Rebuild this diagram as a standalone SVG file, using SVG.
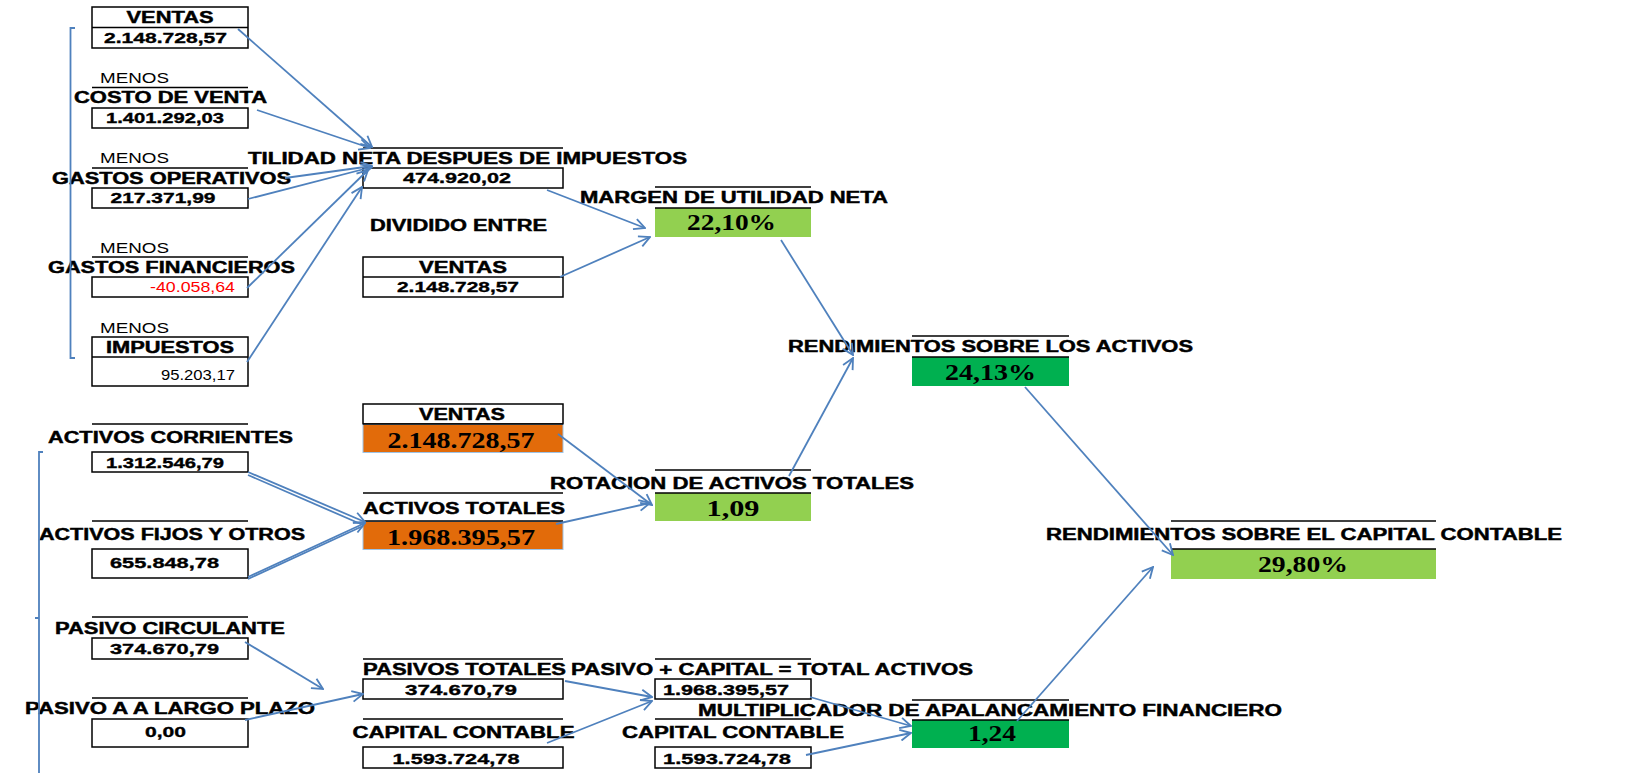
<svg xmlns="http://www.w3.org/2000/svg" width="1650" height="773" viewBox="0 0 1650 773">
<defs>
<style>
.h{font-family:"Liberation Sans",Arial,sans-serif;font-weight:bold;font-size:16px;fill:#000;stroke:#000;stroke-width:0.45;text-anchor:middle}
.v{font-family:"Liberation Sans",Arial,sans-serif;font-weight:bold;font-size:15px;fill:#000;stroke:#000;stroke-width:0.35;text-anchor:middle}
.m{font-family:"Liberation Sans",Arial,sans-serif;font-size:15px;fill:#000}
.r{font-family:"Liberation Sans",Arial,sans-serif;font-size:15px;fill:#000;text-anchor:end}
.n{font-family:"Liberation Serif","Times New Roman",serif;font-weight:bold;font-size:23px;fill:#000;text-anchor:middle}
.box{fill:#fff;stroke:#000;stroke-width:1.5}
.ol{stroke:#000;stroke-width:1.5}
.lg{fill:#92D050}
.dg{fill:#00B050}
.or{fill:#E26B0A;stroke:#9DC3E6;stroke-width:1}
.c{stroke:#4F81BD;stroke-width:1.8;fill:none;marker-end:url(#ah)}
.c2{stroke:#4F81BD;stroke-width:1.8;fill:none}
.br{stroke:#4F81BD;stroke-width:1.8;fill:none}
</style>
<marker id="ah" viewBox="0 0 12 12" refX="11" refY="6" markerWidth="13" markerHeight="13" markerUnits="userSpaceOnUse" orient="auto">
<path d="M1,1 L11,6 L1,11" fill="none" stroke="#4F81BD" stroke-width="1.7"/>
</marker>
</defs>
<rect width="1650" height="773" fill="#fff"/>

<g id="n_ventas1">
<rect class="box" x="92" y="7" width="156" height="41"/>
<line class="ol" x1="92" y1="27.5" x2="248" y2="27.5"/>
<text class="h" x="170" y="23" textLength="87" lengthAdjust="spacingAndGlyphs">VENTAS</text>
<text class="v" x="165.5" y="43" textLength="123" lengthAdjust="spacingAndGlyphs">2.148.728,57</text>
</g>

<g id="n_costo">
<text class="m" x="100" y="83" textLength="69" lengthAdjust="spacingAndGlyphs">MENOS</text>
<line class="ol" x1="92" y1="87.5" x2="248" y2="87.5"/>
<text class="h" x="170.5" y="103" textLength="193" lengthAdjust="spacingAndGlyphs">COSTO DE VENTA</text>
<rect class="box" x="92" y="108" width="156" height="20"/>
<text class="v" x="165" y="123" textLength="118" lengthAdjust="spacingAndGlyphs">1.401.292,03</text>
</g>

<g id="n_gastos_op">
<text class="m" x="100" y="163" textLength="69" lengthAdjust="spacingAndGlyphs">MENOS</text>
<line class="ol" x1="92" y1="168" x2="248" y2="168"/>
<text class="h" x="171.5" y="184" textLength="239" lengthAdjust="spacingAndGlyphs">GASTOS OPERATIVOS</text>
<rect class="box" x="92" y="188" width="156" height="20"/>
<text class="v" x="163" y="203" textLength="105" lengthAdjust="spacingAndGlyphs">217.371,99</text>
</g>

<g id="n_gastos_fin">
<text class="m" x="100" y="253" textLength="69" lengthAdjust="spacingAndGlyphs">MENOS</text>
<line class="ol" x1="92" y1="257" x2="248" y2="257"/>
<text class="h" x="171.5" y="273" textLength="247" lengthAdjust="spacingAndGlyphs">GASTOS FINANCIEROS</text>
<rect class="box" x="92" y="277" width="156" height="20"/>
<text class="r" x="235" y="292" style="fill:#FF0000" textLength="85" lengthAdjust="spacingAndGlyphs">-40.058,64</text>
</g>

<g id="n_impuestos">
<text class="m" x="100" y="333" textLength="69" lengthAdjust="spacingAndGlyphs">MENOS</text>
<rect class="box" x="92" y="337" width="156" height="49"/>
<line class="ol" x1="92" y1="357" x2="248" y2="357"/>
<text class="h" x="170" y="353" textLength="128" lengthAdjust="spacingAndGlyphs">IMPUESTOS</text>
<text class="r" x="235" y="380" textLength="74" lengthAdjust="spacingAndGlyphs">95.203,17</text>
</g>

<g id="n_utilidad">
<line class="ol" x1="363" y1="148" x2="563" y2="148"/>
<text class="h" x="248" y="164" style="text-anchor:start" textLength="439" lengthAdjust="spacingAndGlyphs">TILIDAD NETA DESPUES DE IMPUESTOS</text>
<rect class="box" x="363" y="168" width="200" height="20"/>
<text class="v" x="457" y="183" textLength="108" lengthAdjust="spacingAndGlyphs">474.920,02</text>
</g>

<g id="n_dividido">
<text class="h" x="458.5" y="231" textLength="177" lengthAdjust="spacingAndGlyphs">DIVIDIDO ENTRE</text>
</g>

<g id="n_ventas2">
<rect class="box" x="363" y="257" width="200" height="40"/>
<line class="ol" x1="363" y1="277" x2="563" y2="277"/>
<text class="h" x="463" y="273" textLength="88" lengthAdjust="spacingAndGlyphs">VENTAS</text>
<text class="v" x="458" y="292" textLength="122" lengthAdjust="spacingAndGlyphs">2.148.728,57</text>
</g>

<g id="n_margen">
<line class="ol" x1="655" y1="187" x2="811" y2="187"/>
<text class="h" x="734" y="203" textLength="308" lengthAdjust="spacingAndGlyphs">MARGEN DE UTILIDAD NETA</text>
<rect class="lg" x="655" y="208" width="156" height="29"/>
<line class="ol" x1="655" y1="208" x2="811" y2="208"/>
<text class="n" x="731.5" y="230" textLength="89" lengthAdjust="spacingAndGlyphs">22,10%</text>
</g>

<g id="n_rsa">
<line class="ol" x1="912" y1="336" x2="1069" y2="336"/>
<text class="h" x="990.5" y="352" textLength="405" lengthAdjust="spacingAndGlyphs">RENDIMIENTOS SOBRE LOS ACTIVOS</text>
<rect class="dg" x="912" y="357" width="157" height="29"/>
<line class="ol" x1="912" y1="357" x2="1069" y2="357"/>
<text class="n" x="990.5" y="380" textLength="91" lengthAdjust="spacingAndGlyphs">24,13%</text>
</g>

<g id="n_ventas3">
<rect class="box" x="363" y="404" width="200" height="20"/>
<text class="h" x="462" y="420" textLength="86" lengthAdjust="spacingAndGlyphs">VENTAS</text>
<rect class="or" x="363" y="424.5" width="200" height="28"/>
<line class="ol" x1="363" y1="424" x2="563" y2="424"/>
<text class="n" x="461" y="448" textLength="147" lengthAdjust="spacingAndGlyphs">2.148.728,57</text>
</g>

<g id="n_activos_corr">
<line class="ol" x1="92" y1="424" x2="248" y2="424"/>
<text class="h" x="170.5" y="443" textLength="245" lengthAdjust="spacingAndGlyphs">ACTIVOS CORRIENTES</text>
<rect class="box" x="92" y="452" width="156" height="20"/>
<text class="v" x="165" y="468" textLength="118" lengthAdjust="spacingAndGlyphs">1.312.546,79</text>
</g>

<g id="n_activos_fijos">
<line class="ol" x1="92" y1="521" x2="248" y2="521"/>
<text class="h" x="172" y="540" textLength="266" lengthAdjust="spacingAndGlyphs">ACTIVOS FIJOS Y OTROS</text>
<rect class="box" x="92" y="549" width="156" height="29"/>
<text class="v" x="164.5" y="568" textLength="109" lengthAdjust="spacingAndGlyphs">655.848,78</text>
</g>

<g id="n_activos_tot">
<line class="ol" x1="363" y1="493" x2="563" y2="493"/>
<text class="h" x="464" y="513.5" textLength="202" lengthAdjust="spacingAndGlyphs">ACTIVOS TOTALES</text>
<rect class="or" x="363" y="521.5" width="200" height="28"/>
<line class="ol" x1="363" y1="521" x2="563" y2="521"/>
<text class="n" x="461" y="545" textLength="148" lengthAdjust="spacingAndGlyphs">1.968.395,57</text>
</g>

<g id="n_rotacion">
<line class="ol" x1="655" y1="470" x2="811" y2="470"/>
<text class="h" x="732" y="489" textLength="364" lengthAdjust="spacingAndGlyphs">ROTACION DE ACTIVOS TOTALES</text>
<rect class="lg" x="655" y="493" width="156" height="28"/>
<line class="ol" x1="655" y1="493" x2="811" y2="493"/>
<text class="n" x="733" y="516" textLength="53" lengthAdjust="spacingAndGlyphs">1,09</text>
</g>

<g id="n_rscc">
<line class="ol" x1="1171" y1="521" x2="1436" y2="521"/>
<text class="h" x="1304" y="540" textLength="516" lengthAdjust="spacingAndGlyphs">RENDIMIENTOS SOBRE EL CAPITAL CONTABLE</text>
<rect class="lg" x="1171" y="549" width="265" height="30"/>
<line class="ol" x1="1171" y1="549" x2="1436" y2="549"/>
<text class="n" x="1303" y="572" textLength="90" lengthAdjust="spacingAndGlyphs">29,80%</text>
</g>

<g id="n_pasivo_circ">
<line class="ol" x1="92" y1="617" x2="248" y2="617"/>
<text class="h" x="170" y="634" textLength="230" lengthAdjust="spacingAndGlyphs">PASIVO CIRCULANTE</text>
<rect class="box" x="92" y="638" width="156" height="21"/>
<text class="v" x="164.5" y="653.5" textLength="109" lengthAdjust="spacingAndGlyphs">374.670,79</text>
</g>

<g id="n_pasivo_lp">
<line class="ol" x1="92" y1="698" x2="248" y2="698"/>
<text class="h" x="170" y="714" textLength="290" lengthAdjust="spacingAndGlyphs">PASIVO A A LARGO PLAZO</text>
<rect class="box" x="92" y="719" width="156" height="28"/>
<text class="v" x="165.5" y="737" textLength="41" lengthAdjust="spacingAndGlyphs">0,00</text>
</g>

<g id="n_pasivos_tot">
<line class="ol" x1="363" y1="659" x2="563" y2="659"/>
<text class="h" x="464.5" y="674.5" textLength="203" lengthAdjust="spacingAndGlyphs">PASIVOS TOTALES</text>
<rect class="box" x="363" y="679" width="200" height="20"/>
<text class="v" x="461" y="694.5" textLength="112" lengthAdjust="spacingAndGlyphs">374.670,79</text>
</g>

<g id="n_capital1">
<line class="ol" x1="363" y1="719" x2="563" y2="719"/>
<text class="h" x="463.5" y="737.5" textLength="222" lengthAdjust="spacingAndGlyphs">CAPITAL CONTABLE</text>
<rect class="box" x="363" y="747" width="200" height="21"/>
<text class="v" x="456" y="764" textLength="127" lengthAdjust="spacingAndGlyphs">1.593.724,78</text>
</g>

<g id="n_pasivo_capital">
<line class="ol" x1="655" y1="659" x2="811" y2="659"/>
<text class="h" x="772" y="674.5" textLength="402" lengthAdjust="spacingAndGlyphs">PASIVO + CAPITAL = TOTAL ACTIVOS</text>
<rect class="box" x="655" y="679" width="156" height="20"/>
<text class="v" x="726" y="694.5" textLength="126" lengthAdjust="spacingAndGlyphs">1.968.395,57</text>
</g>

<g id="n_capital2">
<line class="ol" x1="655" y1="719" x2="811" y2="719"/>
<text class="h" x="733" y="737.5" textLength="222" lengthAdjust="spacingAndGlyphs">CAPITAL CONTABLE</text>
<rect class="box" x="655" y="747" width="156" height="21"/>
<text class="v" x="727" y="764" textLength="128" lengthAdjust="spacingAndGlyphs">1.593.724,78</text>
</g>

<g id="n_multiplicador">
<line class="ol" x1="912" y1="700" x2="1069" y2="700"/>
<text class="h" x="990" y="716" textLength="584" lengthAdjust="spacingAndGlyphs">MULTIPLICADOR DE APALANCAMIENTO FINANCIERO</text>
<rect class="dg" x="912" y="720" width="157" height="28"/>
<line class="ol" x1="912" y1="720" x2="1069" y2="720"/>
<text class="n" x="992" y="741" textLength="48" lengthAdjust="spacingAndGlyphs">1,24</text>
</g>

<g id="connectors">
<path class="br" d="M75,28 L70.5,28 L70.5,358 L75,358"/>
<path class="br" d="M43,452 L39,452 L39,773 M39,618 L35,618"/>
<line class="c" x1="238" y1="29" x2="372" y2="147"/>
<line class="c" x1="257" y1="110" x2="370" y2="148"/>
<line class="c" x1="285" y1="178" x2="372" y2="166"/>
<line class="c" x1="248" y1="199" x2="372" y2="167"/>
<line class="c" x1="247" y1="288" x2="368" y2="170"/>
<line class="c" x1="247" y1="362" x2="362" y2="187"/>
<line class="c" x1="547" y1="190" x2="645" y2="228"/>
<line class="c" x1="560" y1="277" x2="650" y2="237"/>
<line class="c" x1="781" y1="240" x2="853" y2="355"/>
<line class="c" x1="789" y1="476" x2="853" y2="358"/>
<line class="c" x1="1025" y1="387" x2="1173" y2="555"/>
<line class="c" x1="1017" y1="721" x2="1153" y2="567"/>
<line class="c2" x1="248" y1="475" x2="363" y2="525"/>
<line class="c" x1="248" y1="472" x2="365" y2="522"/>
<line class="c2" x1="248" y1="579" x2="363" y2="526"/>
<line class="c" x1="248" y1="577" x2="365" y2="523"/>
<line class="c" x1="558" y1="434" x2="652" y2="505"/>
<line class="c" x1="556" y1="524" x2="650" y2="503"/>
<line class="c" x1="245" y1="642" x2="323" y2="689"/>
<line class="c" x1="245" y1="720" x2="363" y2="694"/>
<line class="c" x1="565" y1="681" x2="652" y2="697"/>
<line class="c" x1="547" y1="743" x2="652" y2="701"/>
<line class="c" x1="810" y1="697" x2="911" y2="726"/>
<line class="c" x1="806" y1="755" x2="911" y2="733"/>
</g>
</svg>
